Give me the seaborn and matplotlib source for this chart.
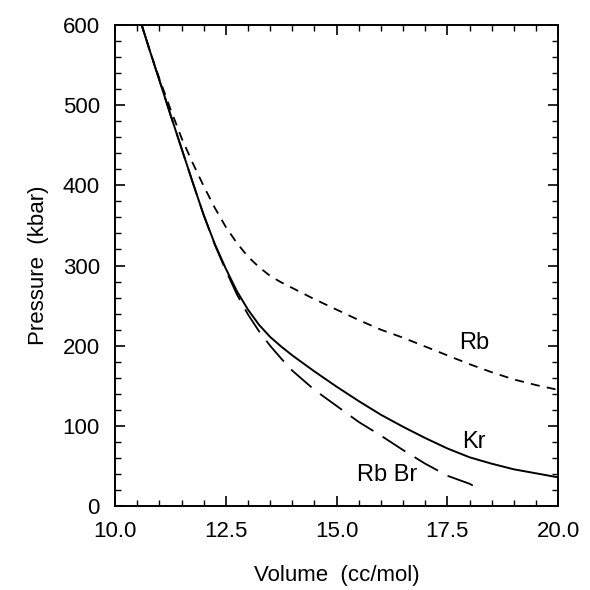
import pandas as pd
import seaborn as sns
import matplotlib.pyplot as plt
from matplotlib.ticker import MultipleLocator

volume = [10.6, 10.8, 11.0, 11.25, 11.5, 11.75, 12.0, 12.25, 12.5, 12.75, 13.0, 13.25, 13.5, 13.75,
          14.0, 14.5, 15.0, 15.5, 16.0, 16.5, 17.0, 17.5, 18.0, 18.5, 19.0, 19.5, 20.0]
kr = [600, 565, 531, 488, 446, 404, 363, 327, 296, 268, 245, 226, 211, 199,
      188, 168, 149, 131, 114, 99, 85, 72, 61, 53, 46, 41, 36]
rb = [600, 565, 533, 495, 459, 428, 399, 372, 348, 328, 311, 298, 287, 279,
      272, 258, 245, 232, 220, 210, 199, 188, 177, 167, 158, 151, 145]

volume_rbbr = [10.6, 10.8, 11.0, 11.25, 11.5, 11.75, 12.0, 12.25, 12.5, 12.75, 13.0, 13.25, 13.5,
               13.75, 14.0, 14.5, 15.0, 15.5, 16.0, 16.5, 17.0, 17.5, 18.0, 18.1]
rbbr = [600, 565, 531, 488, 446, 404, 363, 326, 294, 264, 239, 218, 200,
        184, 169, 145, 125, 105, 88, 70, 53, 38, 28, 25]

sns.set_style("ticks")
plt.rcParams['font.family'] = ['Liberation Sans', 'DejaVu Sans']
plt.rcParams['text.color'] = 'black'
plt.rcParams['axes.labelcolor'] = 'black'
plt.rcParams['xtick.color'] = 'black'
plt.rcParams['ytick.color'] = 'black'

fig = plt.figure(figsize=(5.9, 5.9), dpi=100)
ax = fig.add_axes([0.195, 0.142, 0.751, 0.816])

sns.lineplot(x=volume, y=kr, ax=ax, color='black', lw=1.4, sort=False)
sns.lineplot(x=volume, y=rb, ax=ax, color='black', lw=1.3, sort=False)
sns.lineplot(x=volume_rbbr, y=rbbr, ax=ax, color='black', lw=1.3, sort=False)
ax.lines[1].set_dashes((5, 4))
ax.lines[2].set_dashes((15, 6))

ax.text(17.77, 196, 'Rb', fontsize=17)
ax.text(17.83, 72, 'Kr', fontsize=17)
ax.text(15.46, 32, 'Rb Br', fontsize=17)

ax.set_xlim(10, 20)
ax.set_ylim(0, 600)
ax.xaxis.set_major_locator(MultipleLocator(2.5))
ax.xaxis.set_minor_locator(MultipleLocator(0.5))
ax.yaxis.set_major_locator(MultipleLocator(100))
ax.yaxis.set_minor_locator(MultipleLocator(20))
ax.xaxis.set_major_formatter(plt.FormatStrFormatter('%.1f'))
ax.tick_params(which='both', direction='in', top=True, right=True, labelsize=16)
ax.tick_params(which='major', length=7, width=1.2, pad=11)
ax.tick_params(which='minor', length=4, width=1)
for s in ax.spines.values():
    s.set_linewidth(1.4)
    s.set_color('black')

ax.set_xlabel('Volume  (cc/mol)', fontsize=16, labelpad=16)
ax.set_ylabel('Pressure  (kbar)', fontsize=16, labelpad=10)

fig.savefig('out.png', dpi=100)
